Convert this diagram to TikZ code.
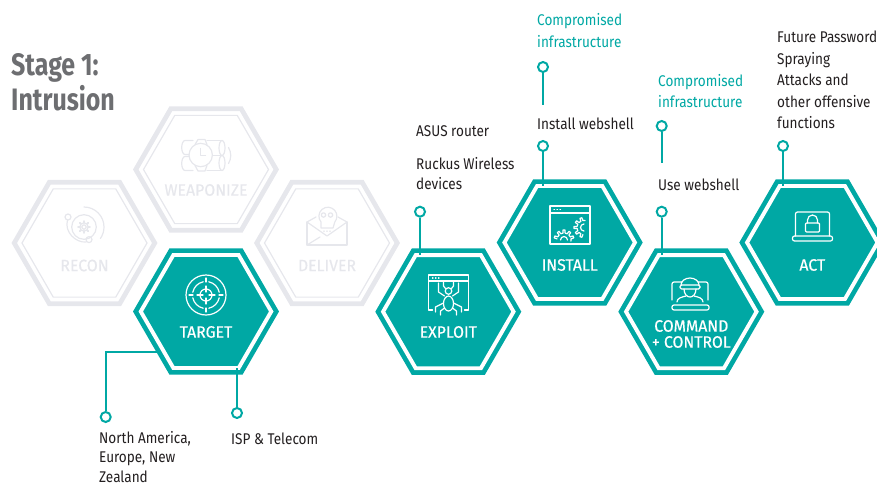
\documentclass[tikz,border=0pt]{standalone}
\usepackage{fontspec}
\setmainfont{Fira Sans}[FakeStretch=0.875]
\newfontfamily\titlefont{Fira Sans}[FakeStretch=0.805]
\newfontfamily\lblfont{Fira Sans}[FakeStretch=0.96,FakeBold=0.5]
\usepackage{xcolor}
\usetikzlibrary{shapes.geometric}
\definecolor{hexteal}{HTML}{00A8A4}
\definecolor{hexgrey}{HTML}{E6E7EC}
\definecolor{titlegrey}{HTML}{6D6E71}
\definecolor{infoblack}{HTML}{231F20}
\tikzset{
	hexbase/.style={regular polygon,regular polygon sides=6,inner sep=0,outer sep=0},
	hexteal/.style={hexbase,minimum size=130.5pt,draw=hexteal,fill=hexteal,line width=4.75pt,double=white,double distance=3.9pt},
	hexfaint/.style={hexbase,minimum size=140.5pt,draw=hexgrey,line width=4.75pt},
	hexfaintin/.style={hexbase,minimum size=125pt,draw=hexgrey,line width=1.2pt},
	hexlabel/.style={font=\fontsize{16.5}{16}\selectfont\lblfont,text=white,align=center,inner sep=0},
	faintlabel/.style={hexlabel,text=hexgrey},
	infotext/.style={font=\fontsize{15.5}{21.5}\selectfont,text=infoblack,align=left,anchor=north west,inner sep=0},
	tealtext/.style={infotext,text=hexteal},
	pin/.style={circle,draw=hexteal,fill=white,line width=2pt,minimum size=10pt,inner sep=0},
	pinline/.style={draw=hexteal,line width=2pt},
	iconline/.style={line width=1.2pt,line cap=round,line join=round},
	targeticon/.pic={
		\draw[iconline] (0,0) circle (20);
		\draw[iconline] (0,0) circle (6);
		\foreach \a in {0,90,180,270}{
			\draw[iconline] (\a+12:13.5) arc (\a+12:\a+78:13.5);
			\draw[iconline] (\a:3) -- (\a:9);
			\draw[iconline] (\a:13) -- (\a:17);
		}
	},
	orbiticon/.pic={
		\draw[iconline] (0,0) circle (12.3);
		\draw[iconline] (0,0) circle (2.2);
		\foreach \a in {0,45,...,315}{\draw[iconline,line width=1.8pt] (\a:4.2) -- (\a:6);}
		\draw[iconline] (0,0) circle (4.2);
		\draw[iconline] (-90:20) arc (-90:35:20);
		\draw[iconline] (-16.5,-7) .. controls (-20,5) and (-8,16) .. (2,15);
		\draw[iconline] (-16,-10) circle (3);
		\draw[iconline] (5,12.6) circle (3);
	},
	bombicon/.pic={
		\draw[iconline] (-13,-15) -- (-21,-15) arc (270:90:3.3 and 7) -- (-17,-1);
		\draw[iconline] (-17,1) -- (-21,1) arc (270:90:3.3 and 7) -- (-13,15);
		\draw[iconline] (1,-15) -- (16,-15);
		\draw[iconline] (1,15) -- (16,15);
		\draw[iconline] (7,0) -- (16,0);
		\draw[iconline] (16,-7.5) ellipse (3 and 7.5);
		\draw[iconline] (16,7.5) ellipse (3 and 7.5);
		\draw[iconline] (22.5,-8) .. controls (25.5,-3) and (25.5,3) .. (22.5,8);
		\draw[iconline] (-5.3,-0.5) circle (11.7);
		\draw[iconline] (-5.3,-7) -- (-5.3,0) -- (-0.5,0);
		\draw[iconline] (-11,-11) -- (-8,-16) -- (-1,-16) -- (1,-11);
		\draw[iconline] (-11,10) -- (-8,15.5) -- (-1,15.5) -- (1,10);
	},
	skullicon/.pic={
		\draw[iconline] (-20,6) -- (-20,29) -- (20,29) -- (20,6);
		\draw[iconline] (-20,6) -- (-11,1);
		\draw[iconline] (20,6) -- (11,1);
		\draw[iconline] (-20,6) -- (0,20) -- (20,6);
		\draw[iconline] (-20,29) -- (-7,21);
		\draw[iconline] (-6,6) arc (140:400:9) -- (6,12) -- (-6,12) -- cycle;
		\draw[iconline] (-3.5,-1) circle (2.2);
		\draw[iconline] (3.5,-1) circle (2.2);
		\foreach \x in {-3,0,3}{\draw[iconline] (\x,15) -- (\x,15.3);}
	},
	spidericon/.pic={
		\draw[iconline] (-16,15) -- (-20,15) -- (-20,-20) -- (20,-20) -- (20,15) -- (16,15);
		\draw[iconline] (-20,-14) -- (20,-14);
		\foreach \x in {-16,-13,-10}{\draw[iconline] (\x,-17) -- (\x+0.5,-17);}
		\draw[iconline] (0,8.5) ellipse (5 and 7.5);
		\draw[iconline] (0,-4) circle (3.3);
		\foreach \s in {-1,1}{
			\draw[iconline] (\s*4,1) -- (\s*10,-3) -- (\s*10,-12);
			\draw[iconline] (\s*3,-6.5) -- (\s*5,-9) -- (\s*5,-13);
			\draw[iconline] (\s*5,8) -- (\s*13,12) -- (\s*13,17);
			\draw[iconline] (\s*4,13) -- (\s*8,16) -- (\s*8,20);
		}
	},
	gearsicon/.pic={
		\draw[iconline] (-20,-19) rectangle (20,19);
		\draw[iconline] (-20,-12) -- (20,-12);
		\foreach \x in {-16,-13,-10}{\draw[iconline] (\x,-15.5) -- (\x+0.5,-15.5);}
		\foreach \a in {198,234,270,306,342}{
			\draw[iconline,shift={(-6,15)}] (\a-9:7) -- (\a-6:10) -- (\a+6:10) -- (\a+9:7) arc (\a+9:\a+27:7);
		}
		\draw[iconline] (-9.5,15) arc (180:360:3.5);
		\foreach \a in {108,144,180,216,252}{
			\draw[iconline,shift={(14,2.5)}] (\a-9:7) -- (\a-6:10) -- (\a+6:10) -- (\a+9:7) arc (\a+9:\a+27:7);
		}
		\draw[iconline] (14,-1) arc (270:90:3.5);
	},
	hackericon/.pic={
		\draw[iconline] (-8,-14) -- (-16,-14) arc (-90:-180:2) -- (-18,4);
		\draw[iconline] (8,-14) -- (16,-14) arc (270:360:2) -- (18,4);
		\draw[iconline,rounded corners=2pt] (-18,9) rectangle (19,14);
		\draw[iconline] (-9,-11) arc (180:360:9 and 7);
		\draw[iconline,rounded corners=1.5pt] (-10,-11) rectangle (10,-7);
		\draw[iconline] (-6,-7) .. controls (-6,-2) and (-3,1) .. (0,1) .. controls (3,1) and (6,-2) .. (6,-7);
		\draw[iconline] (-13,6) .. controls (-13,2) and (-8,1) .. (-4,0);
		\draw[iconline] (13,6) .. controls (13,2) and (8,1) .. (4,0);
	},
	lockicon/.pic={
		\draw[iconline,rounded corners=2pt] (-17,9) -- (-17,-15) -- (17,-15) -- (17,9);
		\draw[iconline,rounded corners=2pt] (-20,9) rectangle (20,14);
		\draw[iconline,rounded corners=1pt] (-7,-4) rectangle (7,5);
		\draw[iconline] (-5,-4) -- (-5,-7) arc (180:360:5) -- (5,-4);
	}
}
\begin{document}
\begin{tikzpicture}[x=1pt,y=-1pt]
	\clip (0,0) rectangle (877,485);
	% Title
	\node[font=\fontsize{31}{35}\selectfont\titlefont\bfseries,text=titlegrey,align=left,anchor=north west,inner sep=0] (stagetitle) at (11,53) {Stage 1:\\Intrusion};

	% Faint stages
	\node[hexfaint] (recon) at (84.5,243) {};
	\node[hexfaintin] (reconin) at (recon) {};
	\pic[color=hexgrey] at (84,227) {orbiticon};
	\node[faintlabel] (reconlbl) at (84.5,265.5) {RECON};

	\node[hexfaint] (weaponize) at (206,169.5) {};
	\node[hexfaintin] (weaponizein) at (weaponize) {};
	\pic[color=hexgrey] at (206,155.5) {bombicon};
	\node[faintlabel] (weaponizelbl) at (206,190) {WEAPONIZE};

	\node[hexfaint] (deliver) at (327,243) {};
	\node[hexfaintin] (deliverin) at (deliver) {};
	\pic[color=hexgrey] at (327,216) {skullicon};
	\node[faintlabel] (deliverlbl) at (327,265.5) {DELIVER};

	% Target
	\node[hexteal] (target) at (206,311.5) {};
	\pic[color=white] at (206,295) {targeticon};
	\node[hexlabel] (targetlbl) at (206,332) {TARGET};
	\coordinate (targetedge) at (160,352);
	\node[pin] (pinregion) at (105.7,417) {};
	\node[pin] (pinisp) at (237,413) {};
	\draw[pinline] (pinregion) |- (targetedge);
	\draw[pinline] (pinisp) -- (pinisp |- target.south);
	\node[infotext,font=\fontsize{15.5}{19.6}\selectfont] (regiontxt) at (99,431) {North America,\\Europe, New\\Zealand};
	\node[infotext] (isptxt) at (231,432.5) {ISP \& Telecom};

	% Exploit
	\node[hexteal] (exploit) at (448.3,311.7) {};
	\pic[color=white] at (448.5,295) {spidericon};
	\node[hexlabel] (exploitlbl) at (448.3,332) {EXPLOIT};
	\node[pin] (pinexploit) at (420,211.7) {};
	\draw[pinline] (pinexploit) -- (pinexploit |- exploit.north);
	\node[infotext] (asustxt) at (416,125.5) {ASUS router};
	\node[infotext,font=\fontsize{15.5}{20}\selectfont] (ruckustxt) at (416,157.5) {Ruckus Wireless\\devices};

	% Install
	\node[hexteal] (install) at (569.7,242.5) {};
	\pic[color=white] at (570,225) {gearsicon};
	\node[hexlabel] (installlbl) at (569.7,265) {INSTALL};
	\node[pin] (pininstall) at (543,146) {};
	\draw[pinline] (pininstall) -- (pininstall |- install.north);
	\node[infotext] (webshelltxt) at (537,117.5) {Install webshell};
	\node[pin] (pincompa) at (543,67) {};
	\coordinate (compaend) at (543,105);
	\draw[pinline] (pincompa) -- (compaend);
	\node[tealtext] (compatxt) at (537,13.5) {Compromised\\infrastructure};

	% Command + control
	\node[hexteal] (command) at (691.3,311.7) {};
	\pic[color=white] at (690,296) {hackericon};
	\node[hexlabel] (commandlbl) at (691.3,334) {COMMAND\\+ CONTROL};
	\node[pin] (pincommand) at (661.7,211.7) {};
	\draw[pinline] (pincommand) -- (pincommand |- command.north);
	\node[infotext] (usetxt) at (658,178.5) {Use webshell};
	\node[pin] (pincompb) at (661.7,126) {};
	\coordinate (compbend) at (661.7,163);
	\draw[pinline] (pincompb) -- (compbend);
	\node[tealtext] (compbtxt) at (658,74) {Compromised\\infrastructure};

	% Act
	\node[hexteal] (act) at (812.3,242.5) {};
	\pic[color=white] at (812.5,227) {lockicon};
	\node[hexlabel] (actlbl) at (812.3,265) {ACT};
	\node[pin] (pinact) at (783,146) {};
	\draw[pinline] (pinact) -- (pinact |- act.north);
	\node[infotext] (futuretxt) at (777,31) {Future Password\\Spraying\\Attacks and\\other offensive\\functions};
\end{tikzpicture}
\end{document}
